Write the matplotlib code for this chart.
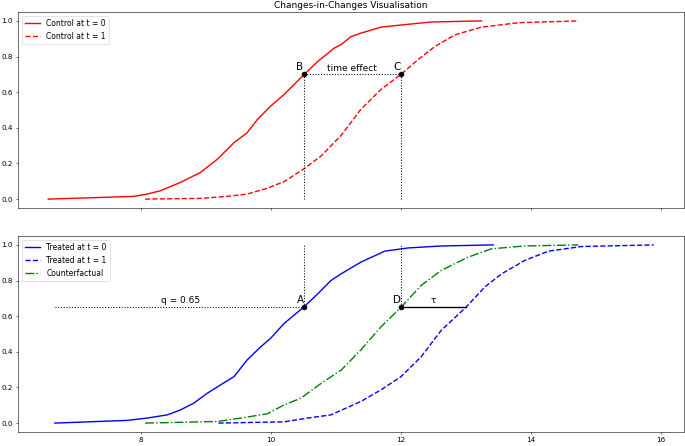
import matplotlib
matplotlib.use("Agg")
import matplotlib.pyplot as plt

# control group CDFs
ctrl0_x = [6.57, 7.88, 8.09, 8.29, 8.60, 8.91, 9.17, 9.43, 9.63, 9.79, 9.99, 10.20, 10.35, 10.51,
           10.72, 10.97, 11.08, 11.23, 11.38, 11.69, 12.11, 12.47, 13.24]
ctrl0_y = [0.0, 0.015, 0.028, 0.046, 0.093, 0.149, 0.223, 0.317, 0.372, 0.447, 0.521, 0.587, 0.642, 0.70,
           0.773, 0.847, 0.868, 0.912, 0.931, 0.965, 0.981, 0.994, 1.0]
ctrl1_x = [8.06, 8.91, 9.32, 9.63, 9.94, 10.20, 10.51, 10.77, 11.08, 11.38, 11.69, 12.0, 12.26,
           12.52, 12.83, 13.24, 13.81, 14.73]
ctrl1_y = [0.0, 0.004, 0.015, 0.028, 0.061, 0.098, 0.171, 0.242, 0.358, 0.503, 0.615, 0.70, 0.782,
           0.856, 0.922, 0.965, 0.99, 1.0]

# treated group CDFs
treat0_x = [6.67, 7.78, 8.09, 8.40, 8.60, 8.81, 9.02, 9.22, 9.43, 9.63, 9.84, 9.99, 10.20, 10.35, 10.50,
            10.72, 10.92, 11.08, 11.38, 11.75, 12.11, 12.62, 13.42]
treat0_y = [0.0, 0.015, 0.028, 0.046, 0.073, 0.112, 0.168, 0.214, 0.261, 0.354, 0.428, 0.475, 0.559, 0.605, 0.65,
            0.726, 0.80, 0.838, 0.903, 0.965, 0.983, 0.994, 1.0]
treat1_x = [9.19, 10.20, 10.56, 10.92, 11.08, 11.38, 11.69, 12.0, 12.31, 12.62, 13.0, 13.29, 13.55,
            13.90, 14.27, 14.78, 15.89]
treat1_y = [0.0, 0.007, 0.028, 0.046, 0.072, 0.121, 0.186, 0.261, 0.372, 0.521, 0.65, 0.764, 0.838,
            0.912, 0.965, 0.991, 1.0]
cf_x = [8.06, 9.17, 9.53, 9.94, 10.20, 10.46, 10.77, 11.08, 11.38, 11.69, 12.0, 12.31, 12.62, 13.03,
        13.39, 13.90, 14.73]
cf_y = [0.0, 0.009, 0.028, 0.052, 0.102, 0.140, 0.223, 0.298, 0.41, 0.54, 0.65, 0.773, 0.857, 0.931,
        0.978, 0.994, 1.0]

# annotation points
q = 0.65
q_ctrl = 0.70
x_a = 10.5
x_c = 12.0
x_tau = 13.0

LW = 2.0

fig = plt.figure(figsize=(13.7, 8.92), dpi=50)
ax1 = fig.add_axes([18 / 685, 1 - 208 / 446, 666 / 685, 196 / 446])
ax2 = fig.add_axes([18 / 685, 1 - 432 / 446, 666 / 685, 196 / 446], sharex=ax1)

ax1.plot(ctrl0_x, ctrl0_y, color="red", lw=LW, label="Control at t = 0")
ax1.plot(ctrl1_x, ctrl1_y, color="red", lw=LW, linestyle="--", label="Control at t = 1")
ax1.plot([x_a, x_a], [0, q_ctrl], "k:", lw=1.5)
ax1.plot([x_c, x_c], [0, q_ctrl], "k:", lw=1.5)
ax1.plot([x_a, x_c], [q_ctrl, q_ctrl], "k:", lw=1.5)
ax1.plot([x_a, x_c], [q_ctrl, q_ctrl], "ko", markersize=7, linestyle="none")
ax1.text(x_a, q_ctrl + 0.015, "B", ha="right", va="bottom", fontsize=15)
ax1.text(x_c, q_ctrl + 0.015, "C", ha="right", va="bottom", fontsize=15)
ax1.text((x_a + x_c) / 2, q_ctrl + 0.01, "time effect", ha="center", va="bottom", fontsize=13)
ax1.set_title("Changes-in-Changes Visualisation", fontsize=13)
ax1.legend(loc="upper left", fontsize=11)
ax1.tick_params(labelbottom=False, labelsize=10.5)

ax2.plot(treat0_x, treat0_y, color="blue", lw=LW, label="Treated at t = 0")
ax2.plot(treat1_x, treat1_y, color="blue", lw=LW, linestyle="--", label="Treated at t = 1")
ax2.plot(cf_x, cf_y, color="green", lw=LW, linestyle="-.", label="Counterfactual")
ax2.plot([treat0_x[0], x_a], [q, q], "k:", lw=1.5)
ax2.plot([x_a, x_a], [q, 1.0], "k:", lw=1.5)
ax2.plot([x_c, x_c], [q, 1.0], "k:", lw=1.5)
ax2.plot([x_c, x_tau], [q, q], "k-", lw=LW)
ax2.plot([x_a, x_c], [q, q], "ko", markersize=7, linestyle="none")
ax2.text(x_a, q + 0.015, "A", ha="right", va="bottom", fontsize=15)
ax2.text(x_c, q + 0.015, "D", ha="right", va="bottom", fontsize=15)
ax2.text(8.6, q + 0.01, "q = 0.65", ha="center", va="bottom", fontsize=13)
ax2.text((x_c + x_tau) / 2, q + 0.01, "τ", ha="center", va="bottom", fontsize=13)
ax2.legend(loc="upper left", fontsize=11)
ax2.tick_params(labelsize=10.5)

fig.savefig("out.png", dpi=50)
